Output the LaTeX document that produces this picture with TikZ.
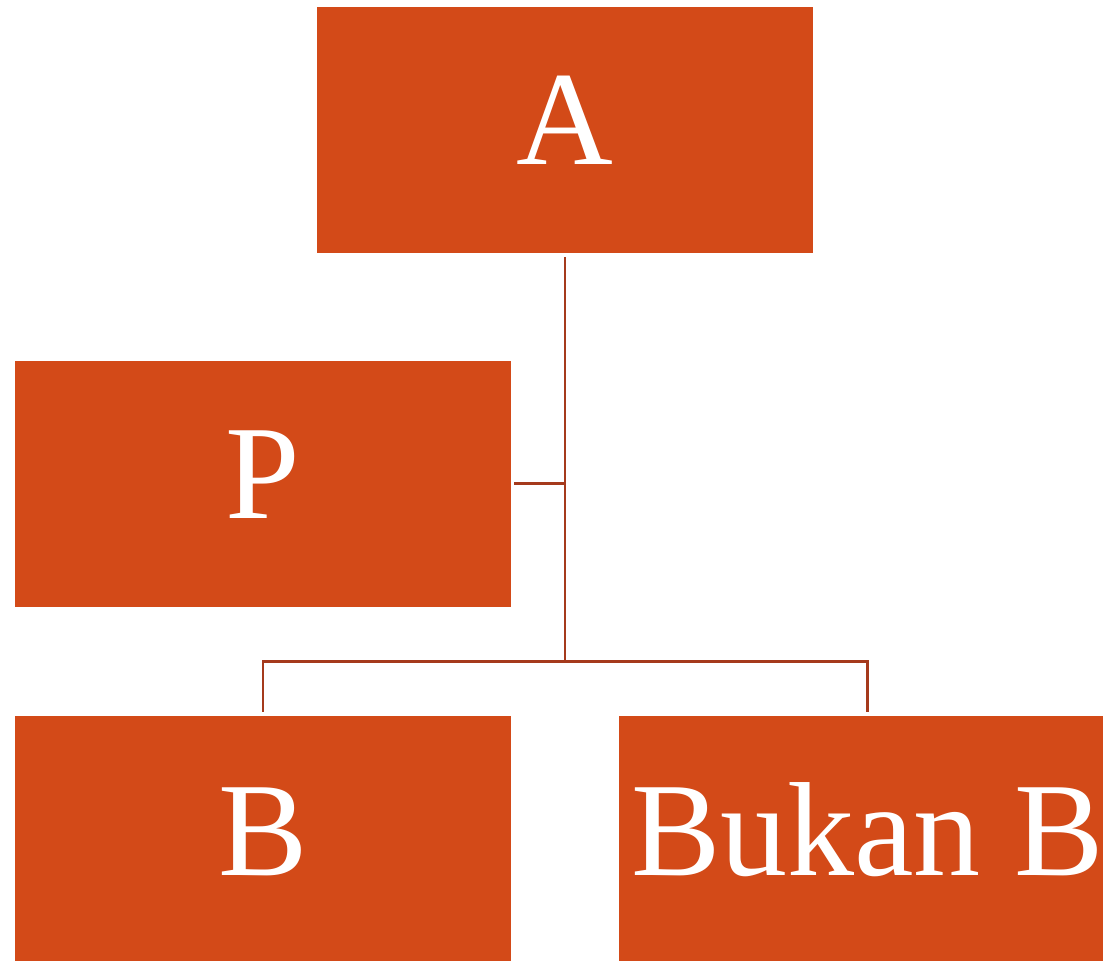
\documentclass[tikz,border=0pt]{standalone}
\usepackage{fontspec}
\setmainfont{Liberation Serif}
\usepackage{xcolor}
\usetikzlibrary{calc}
\usetikzlibrary{positioning}
\definecolor{boxfill}{HTML}{D34A18}
\definecolor{linkline}{HTML}{A53A1C}

\begin{document}
\begin{tikzpicture}[x=1pt, y=1pt, node distance=109pt, font=\fontsize{134}{140}\selectfont]
    \tikzstyle{box}=[draw=none,rectangle,fill=boxfill,text=white,minimum width=496pt,minimum height=246pt,inner sep=0pt]
    \tikzstyle{label}=[text=white,anchor=base,inner sep=0pt]
    \tikzstyle{link}=[draw=linkline,line width=2.5pt]

    \useasboundingbox (0,0) rectangle (1103,-961);

    \node[box] (B) at (263,-839) {};
    \node[box, right=108pt of B] (BB) {};
    \node[box, above=109pt of B] (P) {};
    \coordinate (top) at ($(B.north)!0.5!(BB.north)$);
    \node[box, anchor=south] (A) at ($(top)+(0,463pt)$) {};

    \node[label] at ($(A)+(0,-35)$) {A};
    \node[label] at ($(P)+(0,-35)$) {P};
    \node[label] at ($(B)+(0,-36)$) {B};
    \node[label] at ($(BB)+(0,-36)$) {Bukan B};

    \coordinate (gap) at ($(P.south)!0.5!(B.north)$);
    \coordinate (hub) at (A.south |- gap);
    \coordinate (hubB) at (B.north |- gap);
    \coordinate (hubBB) at (BB.north |- gap);

    \draw[link, shorten <=4pt] (A.south) -- (hub);
    \draw[link, shorten <=3pt] (P.east) -- (P.east -| hub);
    \draw[link, shorten >=4pt] (hub) -- (hubB) -- (B.north);
    \draw[link, shorten >=4pt] (hub) -- (hubBB) -- (BB.north);

\end{tikzpicture}
\end{document}
